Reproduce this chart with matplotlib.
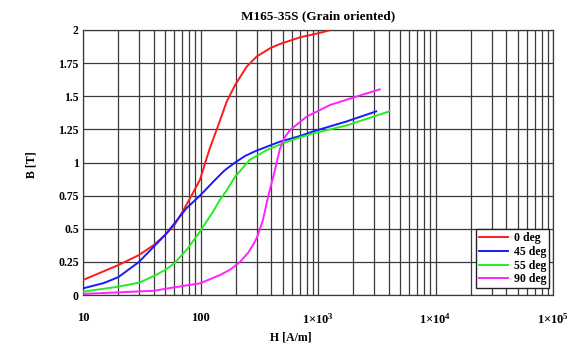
import matplotlib
matplotlib.use("Agg")
import matplotlib.pyplot as plt
from matplotlib.ticker import FixedLocator, NullFormatter, FixedFormatter

plt.rcParams['font.family'] = ['Liberation Serif', 'DejaVu Serif']
plt.rcParams['mathtext.fontset'] = 'custom'
plt.rcParams['mathtext.rm'] = 'Liberation Serif:bold'
plt.rcParams['mathtext.bf'] = 'Liberation Serif:bold'
plt.rcParams['mathtext.it'] = 'Liberation Serif:bold'

title = "M165-35S (Grain oriented)"

# Magnetisation curves: field strength H [A/m] vs flux density B [T]
h_0 = [10, 20, 30, 40, 50, 60, 71.5, 85, 99, 109, 120, 142, 167, 197, 247, 301, 390, 473, 703, 1000, 1225]
b_0 = [0.113, 0.226, 0.302, 0.377, 0.453, 0.528, 0.64, 0.76, 0.87, 0.99, 1.107, 1.283, 1.459, 1.585, 1.723, 1.80, 1.862, 1.894, 1.945, 1.975, 1.995]

h_45 = [10, 15, 20, 30, 40, 50, 60, 76, 99, 130, 160, 197, 240, 301, 473, 703, 913, 1752, 3130]
b_45 = [0.05, 0.09, 0.135, 0.25, 0.365, 0.453, 0.54, 0.655, 0.75, 0.86, 0.94, 1.0, 1.05, 1.09, 1.157, 1.20, 1.235, 1.31, 1.386]

h_55 = [10, 20, 30, 40, 50, 60, 76, 90, 99, 128, 146, 167, 197, 262, 366, 505, 703, 913, 1752, 4050]
b_55 = [0.025, 0.063, 0.093, 0.143, 0.189, 0.24, 0.34, 0.428, 0.478, 0.63, 0.717, 0.79, 0.893, 1.019, 1.094, 1.145, 1.19, 1.22, 1.28, 1.386]

h_90 = [10, 20, 40, 60, 99, 146, 178, 217, 255, 281, 301, 340, 376, 430, 473, 520, 578, 800, 1266, 2115, 3355]
b_90 = [0.008, 0.02, 0.032, 0.058, 0.088, 0.15, 0.19, 0.25, 0.32, 0.38, 0.43, 0.566, 0.742, 0.943, 1.1, 1.19, 1.245, 1.346, 1.434, 1.497, 1.552]

series = [
    ("0 deg", h_0, b_0, "#ff1a1a"),
    ("45 deg", h_45, b_45, "#1a1aff"),
    ("55 deg", h_55, b_55, "#22ee22"),
    ("90 deg", h_90, b_90, "#ff22ff"),
]

y_ticks = [0, 0.25, 0.5, 0.75, 1, 1.25, 1.5, 1.75, 2]
y_labels = ["0", "0.25", "0.5", "0.75", "1", "1.25", "1.5", "1.75", "2"]
x_ticks = [10, 100, 1e3, 1e4, 1e5]
x_labels = ["10", "100", r"$1{\times}10^{3}$", r"$1{\times}10^{4}$", r"$1{\times}10^{5}$"]

fig = plt.figure(figsize=(5.69, 3.48), dpi=100)
ax = fig.add_axes([83 / 569, 1 - 295 / 348, 470 / 569, 265 / 348])

for name, h, b, c in series:
    ax.plot(h, b, color=c, lw=1.4, label=name, zorder=3)

ax.set_xscale("log")
ax.set_xlim(10, 1e5)
ax.set_ylim(0, 2)

ax.xaxis.set_major_locator(FixedLocator(x_ticks))
ax.xaxis.set_major_formatter(FixedFormatter(x_labels))
minor = [m * 10 ** e for e in range(1, 5) for m in range(2, 10)]
ax.xaxis.set_minor_locator(FixedLocator(minor))
ax.xaxis.set_minor_formatter(NullFormatter())
ax.set_yticks(y_ticks)
ax.set_yticklabels(y_labels)

grid_kw = dict(color="#3a3a3a", lw=0.9)
ax.grid(True, which="both", axis="x", **grid_kw)
ax.grid(True, which="major", axis="y", **grid_kw)
ax.set_axisbelow(True)
for s in ax.spines.values():
    s.set_color("#3a3a3a")
    s.set_linewidth(0.9)

ax.tick_params(which="both", length=0)
ax.tick_params(axis="x", pad=12, labelsize=9)
ax.tick_params(axis="y", pad=3, labelsize=8.5)
for lab in ax.get_xticklabels() + ax.get_yticklabels():
    lab.set_fontweight("bold")

fig.text(318 / 569, 1 - 16 / 348, title, ha="center", va="center",
         fontsize=9.5, fontweight="bold")
fig.text(291 / 569, 1 - 337 / 348, "H [A/m]", ha="center", va="center",
         fontsize=8.5, fontweight="bold")
fig.text(31 / 569, 1 - 165 / 348, "B [T]", ha="center", va="center",
         fontsize=8.5, fontweight="bold", rotation=90)

leg = ax.legend(loc="lower right", bbox_to_anchor=(0.9925, 0.025),
                prop={"weight": "bold", "size": 8.5}, frameon=True,
                fancybox=False, borderpad=0.25, labelspacing=0.15,
                handlelength=2.5, handletextpad=0.5, borderaxespad=0.0)
leg.get_frame().set_edgecolor("#222222")
leg.get_frame().set_linewidth(1.0)
leg.get_frame().set_alpha(1.0)

fig.savefig("out.png", dpi=100)
